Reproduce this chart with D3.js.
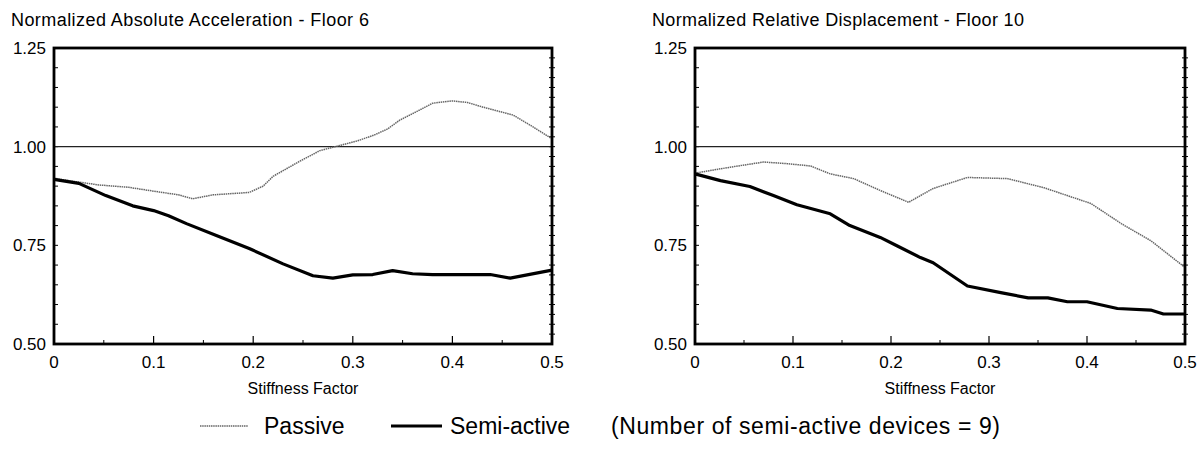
<!DOCTYPE html>
<html>
<head>
<meta charset="utf-8">
<script src="https://cdn.jsdelivr.net/npm/d3@7.9.0/dist/d3.min.js"></script>
<style>
  body { margin: 0; background: #fff; }
  svg { display: block; font-family: "Liberation Sans", Arial, sans-serif; }
</style>
</head>
<body>
<svg id="chart" width="1204" height="449"></svg>
<script>
// panel titles
const titles = ['Normalized Absolute Acceleration - Floor 6', 'Normalized Relative Displacement - Floor 10'];
const xTicks = [0, 0.1, 0.2, 0.3, 0.4, 0.5];
const yTicks = [0.5, 0.75, 1.0, 1.25];

// left panel: absolute acceleration, floor 6
const accelPassiveX = [0, 0.02, 0.045, 0.075, 0.106, 0.125, 0.139, 0.16, 0.196, 0.21, 0.22, 0.246, 0.267, 0.287, 0.305, 0.322, 0.335, 0.347, 0.365, 0.38, 0.40, 0.415, 0.431, 0.461, 0.481, 0.5];
const accelPassive = [0.92, 0.912, 0.903, 0.897, 0.885, 0.878, 0.868, 0.878, 0.884, 0.9, 0.925, 0.962, 0.99, 1.003, 1.015, 1.03, 1.045, 1.067, 1.09, 1.11, 1.116, 1.112, 1.10, 1.08, 1.05, 1.02];
const accelSemiX = [0, 0.025, 0.052, 0.079, 0.10, 0.115, 0.133, 0.163, 0.196, 0.23, 0.26, 0.28, 0.30, 0.32, 0.34, 0.36, 0.38, 0.438, 0.458, 0.5];
const accelSemi = [0.917, 0.907, 0.876, 0.85, 0.838, 0.825, 0.805, 0.775, 0.742, 0.703, 0.673, 0.667, 0.675, 0.676, 0.686, 0.678, 0.676, 0.676, 0.667, 0.687];

// right panel: relative displacement, floor 10
const dispPassiveX = [0, 0.036, 0.07, 0.094, 0.118, 0.138, 0.162, 0.189, 0.218, 0.23, 0.243, 0.278, 0.319, 0.356, 0.404, 0.435, 0.465, 0.5];
const dispPassive = [0.933, 0.948, 0.961, 0.957, 0.951, 0.931, 0.919, 0.889, 0.859, 0.876, 0.894, 0.922, 0.919, 0.896, 0.856, 0.805, 0.762, 0.694];
const dispSemiX = [0, 0.026, 0.056, 0.08, 0.104, 0.138, 0.158, 0.189, 0.206, 0.23, 0.243, 0.278, 0.312, 0.34, 0.36, 0.38, 0.40, 0.431, 0.465, 0.478, 0.5];
const dispSemi = [0.931, 0.914, 0.899, 0.876, 0.853, 0.83, 0.80, 0.77, 0.749, 0.719, 0.706, 0.647, 0.63, 0.617, 0.617, 0.607, 0.607, 0.59, 0.586, 0.576, 0.576];

const legendLabels = ['Passive', 'Semi-active'];
const note = '(Number of semi-active devices = 9)';

const svg = d3.select('#chart');
const plotTop = 48, plotBottom = 344;

const panels = [
  { left: 54, right: 552, title: titles[0], passive: [accelPassiveX, accelPassive], semi: [accelSemiX, accelSemi] },
  { left: 695, right: 1185, title: titles[1], passive: [dispPassiveX, dispPassive], semi: [dispSemiX, dispSemi] }
];

panels.forEach((p, i) => {
  let x = d3.scaleLinear().domain([0, 0.5]).range([p.left, p.right]);
  let y = d3.scaleLinear().domain([0.5, 1.25]).range([plotBottom, plotTop]);
  let g = svg.append('g');

  g.append('text')
    .attr('x', p.left - 43).attr('y', 26)
    .attr('font-size', 18)
    .attr('textLength', i === 0 ? 358 : 372)
    .attr('lengthAdjust', 'spacing')
    .text(p.title);

  // bottom axis, ticks pointing in
  let xMinor = [0.05, 0.15, 0.25, 0.35, 0.45];
  g.selectAll('.xminor').data(xMinor).join('line')
    .attr('x1', (d) => x(d)).attr('x2', (d) => x(d))
    .attr('y1', plotBottom).attr('y2', plotBottom - 4)
    .attr('stroke', '#000').attr('stroke-width', 1);
  g.selectAll('.xmajor').data(xTicks).join('line')
    .attr('x1', (d) => x(d)).attr('x2', (d) => x(d))
    .attr('y1', plotBottom).attr('y2', plotBottom - 8)
    .attr('stroke', '#000').attr('stroke-width', 1.2);
  g.selectAll('.xlab').data(xTicks).join('text')
    .attr('x', (d) => x(d)).attr('y', 368)
    .attr('text-anchor', 'middle')
    .attr('font-size', 17)
    .text((d) => (d === 0 ? '0' : d3.format('.1f')(d)));

  // left axis ticks (0.05) and right axis ticks (0.025)
  g.selectAll('.yminor').data(d3.range(11, 25).map((k) => k * 0.05)).join('line')
    .attr('x1', p.left).attr('x2', p.left + 4)
    .attr('y1', (d) => y(d)).attr('y2', (d) => y(d))
    .attr('stroke', '#000').attr('stroke-width', 1);
  g.selectAll('.rtick').data(d3.range(21, 50).map((k) => k * 0.025)).join('line')
    .attr('x1', p.right - 3).attr('x2', p.right + 3)
    .attr('y1', (d) => y(d)).attr('y2', (d) => y(d))
    .attr('stroke', '#000').attr('stroke-width', 1);
  g.selectAll('.ylab').data(yTicks).join('text')
    .attr('x', p.left - 8).attr('y', (d) => y(d) + 6)
    .attr('text-anchor', 'end')
    .attr('font-size', 17)
    .text((d) => d3.format('.2f')(d));

  g.append('text')
    .attr('x', (p.left + p.right) / 2).attr('y', 394)
    .attr('text-anchor', 'middle')
    .attr('font-size', 16)
    .text('Stiffness Factor');

  // reference line at 1.00
  g.append('line')
    .attr('x1', x(0)).attr('x2', x(0.5))
    .attr('y1', y(1)).attr('y2', y(1))
    .attr('stroke', '#222').attr('stroke-width', 1.2);

  let line = d3.line().x((d) => x(d[0])).y((d) => y(d[1]));

  g.append('path')
    .datum(d3.zip(p.passive[0], p.passive[1]))
    .attr('d', line)
    .attr('fill', 'none')
    .attr('stroke', '#666').attr('stroke-width', 1.5)
    .attr('stroke-dasharray', '1.5,0.7');

  g.append('path')
    .datum(d3.zip(p.semi[0], p.semi[1]))
    .attr('d', line)
    .attr('fill', 'none')
    .attr('stroke', '#000').attr('stroke-width', 3.2)
    .attr('stroke-linejoin', 'round');

  // frame
  g.append('rect')
    .attr('x', p.left).attr('y', plotTop)
    .attr('width', p.right - p.left).attr('height', plotBottom - plotTop)
    .attr('fill', 'none')
    .attr('stroke', '#000').attr('stroke-width', 2.8);
});

// legend
const leg = svg.append('g');
leg.append('line').attr('x1', 200).attr('x2', 248).attr('y1', 426).attr('y2', 426)
  .attr('stroke', '#666').attr('stroke-width', 1.5).attr('stroke-dasharray', '1.5,0.7');
leg.append('text').attr('x', 264).attr('y', 434).attr('font-size', 23).text(legendLabels[0]);
leg.append('line').attr('x1', 391).attr('x2', 442).attr('y1', 426).attr('y2', 426)
  .attr('stroke', '#000').attr('stroke-width', 3.2);
leg.append('text').attr('x', 450).attr('y', 434).attr('font-size', 23).text(legendLabels[1]);
leg.append('text').attr('x', 611).attr('y', 434).attr('font-size', 23)
  .attr('textLength', 389).attr('lengthAdjust', 'spacing').text(note);
</script>
</body>
</html>
